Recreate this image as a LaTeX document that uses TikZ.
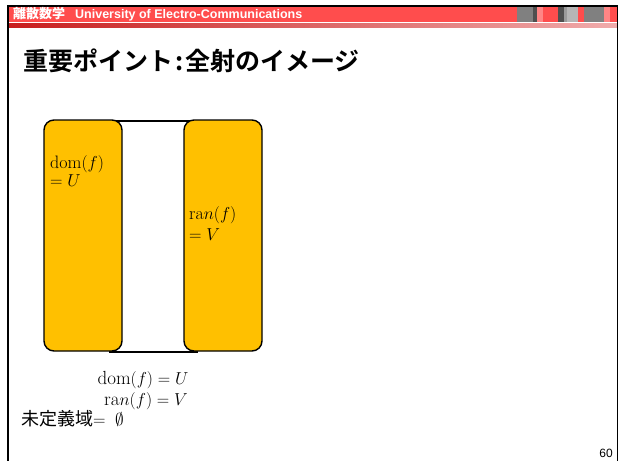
\documentclass[tikz,border=0pt]{standalone}
\usepackage{fontspec}
\newfontfamily\jpfont{Noto Sans CJK JP}
\newfontfamily\jpbold{Noto Sans CJK JP Bold}
\newfontfamily\hdfont{Liberation Sans}
\definecolor{hdred}{HTML}{FF4D4D}
\definecolor{hddark}{HTML}{4F4F4F}
\definecolor{hdgray}{HTML}{808080}
\definecolor{hdlight}{HTML}{B5B5B5}
\definecolor{hdpink}{HTML}{FF8585}
\definecolor{boxfill}{HTML}{FFC000}
\definecolor{gradL}{HTML}{C81E1E}
\definecolor{gradR}{HTML}{F0ABAB}
\tikzset{
  setbox/.style={draw=black, line width=1.4pt, fill=boxfill, rounded corners=10pt},
  midbox/.style={draw=black, line width=1.4pt, fill=white},
  frameline/.style={draw=black, line width=1.4pt},
  boxlabel/.style={inner sep=0pt, align=left, font=\fontsize{18}{19}\selectfont},
  mathline/.style={inner sep=0pt, font=\fontsize{19}{20}\selectfont},
}
\begin{document}
\begin{tikzpicture}[x=1pt,y=-1pt]
\useasboundingbox (0,0) rectangle (625,461);
\fill[white] (0,0) rectangle (625,461);
% header band
\fill[hdred] (8,6.5) rectangle (617.5,22);
\shade[left color=gradL, right color=gradR] (8.5,23) rectangle (617,27.5);
% header decorations
\fill[hdgray] (517,7) rectangle (533,22);
\fill[hddark] (533,7) rectangle (537,22);
\fill[hdpink] (537,7) rectangle (543,22);
\fill[hddark] (558,7) rectangle (564,22);
\fill[hdgray!80!white] (564,7) rectangle (567,22);
\fill[hdlight] (567,7) rectangle (578,22);
\fill[hdgray] (584,7) rectangle (604,22);
\fill[hdpink] (604,7) rectangle (610,22);
% frame
\draw[frameline] (8,461) -- (8,6) -- (617.5,6) -- (617.5,461);
\node[anchor=west, inner sep=0pt, text=white, font=\hdfont\fontsize{12.5}{13}\selectfont\bfseries] (hdr) at (13,14.5)
  {{\jpbold\fontsize{13}{13}\selectfont 離散数学}\hspace{10pt}University of Electro-Communications};
% title
\node[anchor=west, inner sep=0pt, font=\fontsize{25}{27}\selectfont\jpbold] (title) at (23,61) {重要ポイント\hspace{2pt}:\hspace{2pt}全射のイメージ};
% diagram
\draw[midbox] (110,121) rectangle (197,352);
\draw[setbox] (44,120) rectangle (122,351);
\draw[setbox] (184,120) rectangle (262,351);
\node[boxlabel, anchor=north west] (domlbl) at (50,155) {$\mathrm{dom}(f)$\\[-1pt]$= U$};
\node[boxlabel, anchor=north west] (ranlbl) at (189,206) {$\mathrm{ra}n(f)$\\[2pt]$= V$};
% bottom text
\node[mathline, anchor=base] (dom) at (143,384) {$\mathrm{dom}(f) = U$};
\node[mathline, anchor=base] (ran) at (146,405) {$\mathrm{ra}n(f) = V$};
\node[anchor=west, inner sep=0pt, font=\fontsize{18}{20}\selectfont] (undef) at (21,419) {{\jpfont 未定義域}{\fontsize{19}{20}\selectfont$=\;\emptyset$}};
% page number
\node[anchor=east, inner sep=0pt, font=\hdfont\fontsize{12}{13}\selectfont] (pg) at (613,453) {60};
\end{tikzpicture}
\end{document}
